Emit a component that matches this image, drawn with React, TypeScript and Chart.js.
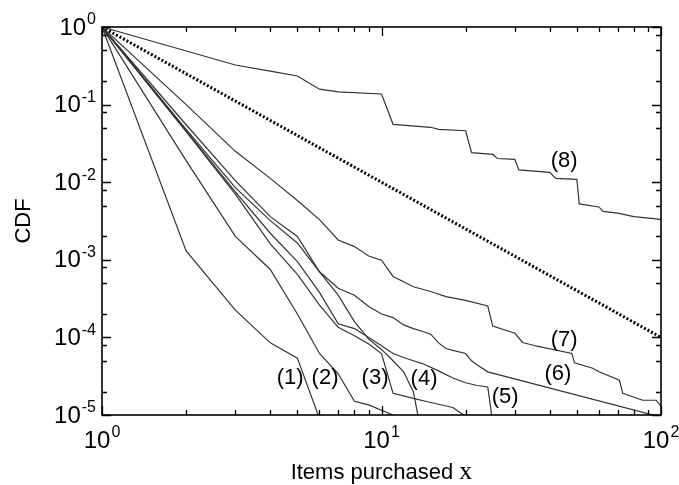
import React, { useEffect, useRef } from "react";
import { Chart, registerables } from "chart.js";

Chart.register(...registerables);

// ---- data ----
const x1 = [1, 2, 3, 4, 5, 6];
const y1 = [1, 1.3e-3, 2.25e-4, 8.5e-5, 5.4e-5, 9e-6];

const x2 = [1, 2, 3, 4, 5, 6, 7, 8, 9, 10, 11, 12];
const y2 = [1, 1.9e-2, 2.0e-3, 7.5e-4, 2.0e-4, 6.2e-5, 3.4e-5, 1.5e-5, 1.35e-5, 1.15e-5, 1.0e-5, 9e-6];

const x3 = [1, 2, 3, 4, 5, 6, 7, 8, 9, 10, 11, 13, 15, 18, 20];
const y3 = [1, 4.5e-2, 7e-3, 1.6e-3, 6.5e-4, 2.6e-4, 1.35e-4, 1.05e-4, 8.2e-5, 6.2e-5, 1.9e-5, 1.64e-5, 1.45e-5, 1.25e-5, 9.6e-6];

const x4 = [1, 2, 3, 4, 5, 6, 7, 8, 9, 10, 11, 12, 13, 14];
const y4 = [1, 4.8e-2, 8.5e-3, 3.2e-3, 1.65e-3, 7e-4, 3.5e-4, 1.6e-4, 9.5e-5, 7e-5, 5e-5, 3.6e-5, 2.0e-5, 5e-6];

const x5 = [1, 2, 3, 4, 5, 6, 7, 8, 9, 10, 11, 12, 13, 14, 16, 18, 20, 22, 24, 25];
const y5 = [1, 4.6e-2, 7.5e-3, 2.2e-3, 9.5e-4, 3.8e-4, 1.5e-4, 1.3e-4, 1.0e-4, 7.8e-5, 6.2e-5, 5.5e-5, 5e-5, 4.6e-5, 3.7e-5, 3.0e-5, 2.6e-5, 2.4e-5, 2.3e-5, 8e-6];

const x6 = [1, 2, 3, 4, 5, 6, 7, 8, 9, 10, 11, 12, 13, 14, 15, 16, 17, 18, 20, 21, 22, 24, 100];
const y6 = [1, 5.5e-2, 1.05e-2, 3.6e-3, 2.0e-3, 7e-4, 4.3e-4, 3.5e-4, 2.5e-4, 2.0e-4, 1.8e-4, 1.45e-4, 1.3e-4, 1.2e-4, 1.1e-4, 8.5e-5, 7.2e-5, 6.8e-5, 6.2e-5, 5e-5, 4.4e-5, 3.6e-5, 9.4e-6];

const x7 = [1, 2, 3, 4, 5, 6, 7, 8, 9, 10, 11, 12, 13, 15, 17, 20, 24, 25, 30, 32, 36, 48, 49, 57, 60, 71, 73, 86, 96, 100];
const y7 = [1, 0.1, 2.5e-2, 1.12e-2, 5.8e-3, 3.3e-3, 1.8e-3, 1.48e-3, 1.12e-3, 9.9e-4, 6.1e-4, 5.2e-4, 4.5e-4, 3.9e-4, 3.35e-4, 3.0e-4, 2.54e-4, 1.4e-4, 1.13e-4, 8.6e-5, 7.7e-5, 6.2e-5, 4.7e-5, 4.0e-5, 3.6e-5, 2.8e-5, 1.9e-5, 1.55e-5, 1.55e-5, 1.3e-5];

const x8 = [1, 3, 4, 5, 6, 7, 10, 11, 15, 16, 20, 21, 25, 26, 30, 31, 40, 42, 50, 51, 60, 62, 70, 80, 94, 100];
const y8 = [1, 0.324, 0.27, 0.234, 0.158, 0.146, 0.137, 0.0557, 0.051, 0.048, 0.046, 0.024, 0.0228, 0.0202, 0.0197, 0.0144, 0.0134, 0.0112, 0.0109, 0.00525, 0.0048, 0.0042, 0.004, 0.0036, 0.0034, 0.0033];

// reference power law x^-2
const xRef = [1, 100];
const yRef = [1, 1e-4];

// curve labels (data-space anchors)
const curveLabels = ["(1)", "(2)", "(3)", "(4)", "(5)", "(6)", "(7)", "(8)"];
const curveLabelX = [4.71, 6.28, 9.48, 14.2, 27.7, 42.8, 45.0, 45.0];
const curveLabelY = [3.0e-5, 3.0e-5, 3.0e-5, 2.9e-5, 1.7e-5, 3.4e-5, 9.2e-5, 0.0188];

// ticks
const xMajorTicks = [1, 10, 100];
const xTickExponents = ["0", "1", "2"];
const xMinorTicks = [2, 3, 4, 5, 6, 7, 8, 9, 20, 30, 40, 50, 60, 70, 80, 90];
const yMajorTicks = [1, 1e-1, 1e-2, 1e-3, 1e-4, 1e-5];
const yTickExponents = ["0", "-1", "-2", "-3", "-4", "-5"];
const yMinorTicks = [0.8, 0.5, 0.2, 0.08, 0.05, 0.02, 0.008, 0.005, 0.002, 8e-4, 5e-4, 2e-4, 8e-5, 5e-5, 2e-5];

const xTitle = "Items purchased ";
const xTitleVar = "x";
const yTitle = "CDF";

const SANS = '"Liberation Sans", Arial, Helvetica, sans-serif';
const SERIF = '"Liberation Serif", "Times New Roman", serif';

function toPts(xs: number[], ys: number[]) {
  return xs.map((x, i) => ({ x, y: ys[i] }));
}

function drawPow(ctx: CanvasRenderingContext2D, base: string, exp: string, x: number, y: number, align: string) {
  const bf = `24px ${SANS}`;
  const ef = `16px ${SANS}`;
  ctx.font = bf;
  const bw = ctx.measureText(base).width;
  ctx.font = ef;
  const ew = ctx.measureText(exp).width;
  const total = bw + 1 + ew;
  const sx = align === "right" ? x - total : x - total / 2;
  ctx.textAlign = "left";
  ctx.textBaseline = "middle";
  ctx.font = bf;
  ctx.fillText(base, sx, y);
  ctx.font = ef;
  ctx.fillText(exp, sx + bw + 1, y - 8);
}

const framePlugin = {
  id: "gnuFrame",
  afterDraw(chart: any) {
    const ctx: CanvasRenderingContext2D = chart.ctx;
    const { left, right, top, bottom } = chart.chartArea;
    const xs = chart.scales.x;
    const ys = chart.scales.y;
    ctx.save();
    ctx.fillStyle = "#000";
    ctx.strokeStyle = "#000";
    // ticks
    ctx.lineWidth = 1.3;
    ctx.beginPath();
    const tick = (vals: number[], len: number) => {
      vals.forEach((v) => {
        const px = Math.round(xs.getPixelForValue(v)) + 0.5;
        ctx.moveTo(px, bottom);
        ctx.lineTo(px, bottom - len);
        ctx.moveTo(px, top);
        ctx.lineTo(px, top + len);
      });
    };
    const ytick = (vals: number[], len: number) => {
      vals.forEach((v) => {
        const py = Math.round(ys.getPixelForValue(v)) + 0.5;
        ctx.moveTo(left, py);
        ctx.lineTo(left + len, py);
        ctx.moveTo(right, py);
        ctx.lineTo(right - len, py);
      });
    };
    tick(xMajorTicks, 9);
    tick(xMinorTicks, 5);
    ytick(yMajorTicks, 9);
    ytick(yMinorTicks, 5);
    ctx.stroke();
    // frame
    ctx.lineWidth = 1.6;
    ctx.strokeRect(left, top, right - left, bottom - top);

    // tick labels
    xMajorTicks.forEach((v, i) => {
      drawPow(ctx, "10", xTickExponents[i], xs.getPixelForValue(v), bottom + 26, "center");
    });
    yMajorTicks.forEach((v, i) => {
      drawPow(ctx, "10", yTickExponents[i], left - 6, ys.getPixelForValue(v) + 1, "right");
    });

    // axis titles
    ctx.font = `22px ${SANS}`;
    const tw = ctx.measureText(xTitle).width;
    ctx.font = `26px ${SERIF}`;
    const vw = ctx.measureText(xTitleVar).width;
    const cx = (left + right) / 2;
    const sx = cx - (tw + vw) / 2;
    ctx.textAlign = "left";
    ctx.textBaseline = "alphabetic";
    ctx.font = `22px ${SANS}`;
    ctx.fillText(xTitle, sx, bottom + 64);
    ctx.font = `26px ${SERIF}`;
    ctx.fillText(xTitleVar, sx + tw, bottom + 64);

    ctx.save();
    ctx.translate(24, (top + bottom) / 2);
    ctx.rotate(-Math.PI / 2);
    ctx.font = `22px ${SANS}`;
    ctx.textAlign = "center";
    ctx.textBaseline = "middle";
    ctx.fillText(yTitle, 0, 0);
    ctx.restore();

    // curve labels
    ctx.font = `22px ${SANS}`;
    ctx.textAlign = "center";
    ctx.textBaseline = "middle";
    curveLabels.forEach((t, i) => {
      ctx.fillText(t, xs.getPixelForValue(curveLabelX[i]), ys.getPixelForValue(curveLabelY[i]));
    });
    ctx.restore();
  },
};

export default function App() {
  const ref = useRef<HTMLCanvasElement>(null);
  useEffect(() => {
    if (!ref.current) return;
    const lineColor = "#333333";
    const mk = (xs: number[], ys: number[]) => ({
      data: toPts(xs, ys),
      borderColor: lineColor,
      borderWidth: 1.2,
      pointRadius: 0,
      fill: false,
      tension: 0,
    });
    const chart = new Chart(ref.current, {
      type: "line",
      data: {
        datasets: [
          mk(x1, y1),
          mk(x2, y2),
          mk(x3, y3),
          mk(x4, y4),
          mk(x5, y5),
          mk(x6, y6),
          mk(x7, y7),
          mk(x8, y8),
          {
            data: toPts(xRef, yRef),
            borderColor: "#000",
            borderWidth: 3,
            borderDash: [2, 2],
            borderCapStyle: "butt",
            pointRadius: 0,
            fill: false,
          } as any,
        ],
      },
      options: {
        responsive: false,
        animation: false,
        events: [],
        layout: { padding: { left: 102, top: 27, right: 18, bottom: 70 } },
        plugins: { legend: { display: false }, tooltip: { enabled: false }, title: { display: false } },
        scales: {
          x: {
            type: "logarithmic",
            min: 1,
            max: 100,
            grid: { display: false },
            border: { display: false },
            ticks: { display: false },
            afterFit: (s: any) => {
              s.height = 0;
            },
          },
          y: {
            type: "logarithmic",
            min: 1e-5,
            max: 1,
            grid: { display: false },
            border: { display: false },
            ticks: { display: false },
            afterFit: (s: any) => {
              s.width = 0;
            },
          },
        },
      } as any,
      plugins: [framePlugin],
    });
    return () => chart.destroy();
  }, []);
  return (
    <div style={{ position: "absolute", left: 0, top: 0, width: 679, height: 485, background: "#fff" }}>
      <canvas ref={ref} width={679} height={485} style={{ display: "block" }} />
    </div>
  );
}
